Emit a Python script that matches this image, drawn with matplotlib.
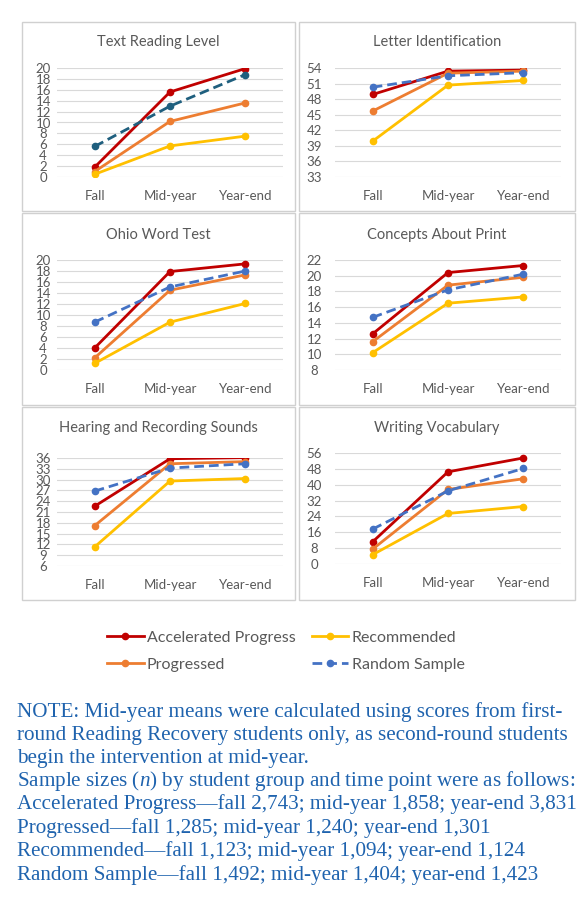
import matplotlib
matplotlib.use('Agg')
import matplotlib.pyplot as plt
from matplotlib.patches import Rectangle

# time points and groups
time_points = ['Fall', 'Mid-year', 'Year-end']
groups = ['Accelerated Progress', 'Progressed', 'Recommended', 'Random Sample']

# mean scores, one list per group: accelerated, progressed, recommended, random
text_reading_level = [[1.8, 15.6, 19.9], [1.0, 10.2, 13.6], [0.5, 5.7, 7.5], [5.6, 13.0, 18.8]]
letter_identification = [[48.9, 53.4, 53.6], [45.7, 53.0, 53.4], [39.9, 50.7, 51.6], [50.3, 52.5, 53.1]]
ohio_word_test = [[4.0, 17.9, 19.3], [2.2, 14.5, 17.3], [1.2, 8.7, 12.1], [8.7, 15.1, 18.0]]
concepts_about_print = [[12.6, 20.4, 21.3], [11.6, 18.8, 19.8], [10.2, 16.5, 17.3], [14.7, 18.2, 20.2]]
hearing_recording = [[22.6, 35.8, 36.1], [17.2, 34.4, 35.0], [11.3, 29.6, 30.3], [26.8, 33.2, 34.4]]
writing_vocabulary = [[11.2, 46.5, 53.5], [7.5, 37.6, 43.0], [4.7, 25.5, 29.0], [17.6, 36.9, 48.2]]

panel_titles = ['Text Reading Level', 'Letter Identification', 'Ohio Word Test',
                'Concepts About Print', 'Hearing and Recording Sounds', 'Writing Vocabulary']
panel_data = [text_reading_level, letter_identification, ohio_word_test,
              concepts_about_print, hearing_recording, writing_vocabulary]
# y axis (min, max, step)
y_ranges = [(0, 20, 2), (33, 54, 3), (0, 20, 2), (8, 22, 2), (6, 36, 3), (0, 56, 8)]

note_lines = [
    'NOTE: Mid-year means were calculated using scores from first-',
    'round Reading Recovery students only, as second-round students',
    'begin the intervention at mid-year.',
    'Sample sizes ($\\it{n}$) by student group and time point were as follows:',
    'Accelerated Progress\u2014fall 2,743; mid-year 1,858; year-end 3,831',
    'Progressed\u2014fall 1,285; mid-year 1,240; year-end 1,301',
    'Recommended\u2014fall 1,123; mid-year 1,094; year-end 1,124',
    'Random Sample\u2014fall 1,492; mid-year 1,404; year-end 1,423',
]

colors = ['#C00000', '#ED7D31', '#FFC000', '#4472C4']
trl_random_color = '#1F5F7E'
gray = '#595959'
grid_gray = '#D9D9D9'

plt.rcParams['font.family'] = ['Lato', 'DejaVu Sans']
plt.rcParams['mathtext.fontset'] = 'custom'
plt.rcParams['mathtext.it'] = 'Liberation Serif:italic'
plt.rcParams['mathtext.rm'] = 'Liberation Serif'

W, H = 587, 913
fig = plt.figure(figsize=(W / 100, H / 100), dpi=100)

def px_box(x0, y0, x1, y1):
    return [x0 / W, 1 - y1 / H, (x1 - x0) / W, (y1 - y0) / H]

# panel frames (pixels): left col / right col, three rows
frame_cols = [(22, 295), (299, 575)]
frame_rows = [(22, 211), (213, 405), (407, 600)]
# plot areas
axes_cols = [(57, 283), (335, 561)]
axes_rows = [[(68, 177), (68, 177)], [(260, 370), (260, 370)], [(458, 566), (453, 564)]]
title_rows = [42, 235, 428]
label_pads = [10, 15]

handles = []
for i, (title, data, (ymin, ymax, ystep)) in enumerate(zip(panel_titles, panel_data, y_ranges)):
    row, col = i // 2, i % 2
    fx0, fx1 = frame_cols[col]
    fy0, fy1 = frame_rows[row]
    fig.add_artist(Rectangle((fx0 / W, 1 - fy1 / H), (fx1 - fx0) / W, (fy1 - fy0) / H,
                             transform=fig.transFigure, fill=False, edgecolor='#D0D0D0', lw=1))
    ax0, ax1 = axes_cols[col]
    ay0, ay1 = axes_rows[row][col]
    ax = fig.add_axes(px_box(ax0, ay0, ax1, ay1))
    x = range(len(time_points))
    for g, (vals, c) in enumerate(zip(data, colors)):
        if g == 3:
            c = trl_random_color if i == 0 else c
            line, = ax.plot(x, vals, color=c, lw=2, marker='o', markersize=4.5,
                            dashes=(3.5, 1.8), label=groups[g], zorder=3)
        else:
            line, = ax.plot(x, vals, color=c, lw=2, marker='o', markersize=4.5,
                            label=groups[g], zorder=3)
        if i == 1:
            handles.append(line)
    ax.set_xlim(-0.5, 2.5)
    ax.set_ylim(ymin, ymax)
    yt = list(range(ymin, ymax + 1, ystep))
    ax.set_yticks(yt)
    ax.set_xticks(list(x))
    ax.set_xticklabels(time_points)
    ax.grid(axis='y', color=grid_gray, lw=0.8)
    ax.set_axisbelow(True)
    for s in ax.spines.values():
        s.set_visible(False)
    ax.tick_params(axis='both', length=0, colors=gray, labelsize=9.5)
    ax.tick_params(axis='x', pad=9.5)
    ax.tick_params(axis='y', pad=label_pads[col])
    for t in ax.get_yticklabels():
        t.set_horizontalalignment('center')
    fig.text(((fx0 + fx1) / 2) / W, 1 - title_rows[row] / H, title,
             ha='center', va='center', fontsize=10.5, color=gray)

leg = fig.legend(handles, groups,
                 ncol=2, loc='center left', bbox_to_anchor=(99 / W, 1 - 651 / H),
                 frameon=False, fontsize=11.5, handlelength=2.3, handletextpad=0.2,
                 columnspacing=1.0, labelspacing=0.8, borderpad=0)
for t in leg.get_texts():
    t.set_color(gray)

note_y = [712, 735, 758, 781, 804, 828, 851, 875]
for line, yy in zip(note_lines, note_y):
    fig.text(17 / W, 1 - yy / H, line, ha='left', va='center', fontsize=15.2,
             color='#1F63AE', family='Liberation Serif')

fig.savefig('out.png', dpi=100, facecolor='white')
